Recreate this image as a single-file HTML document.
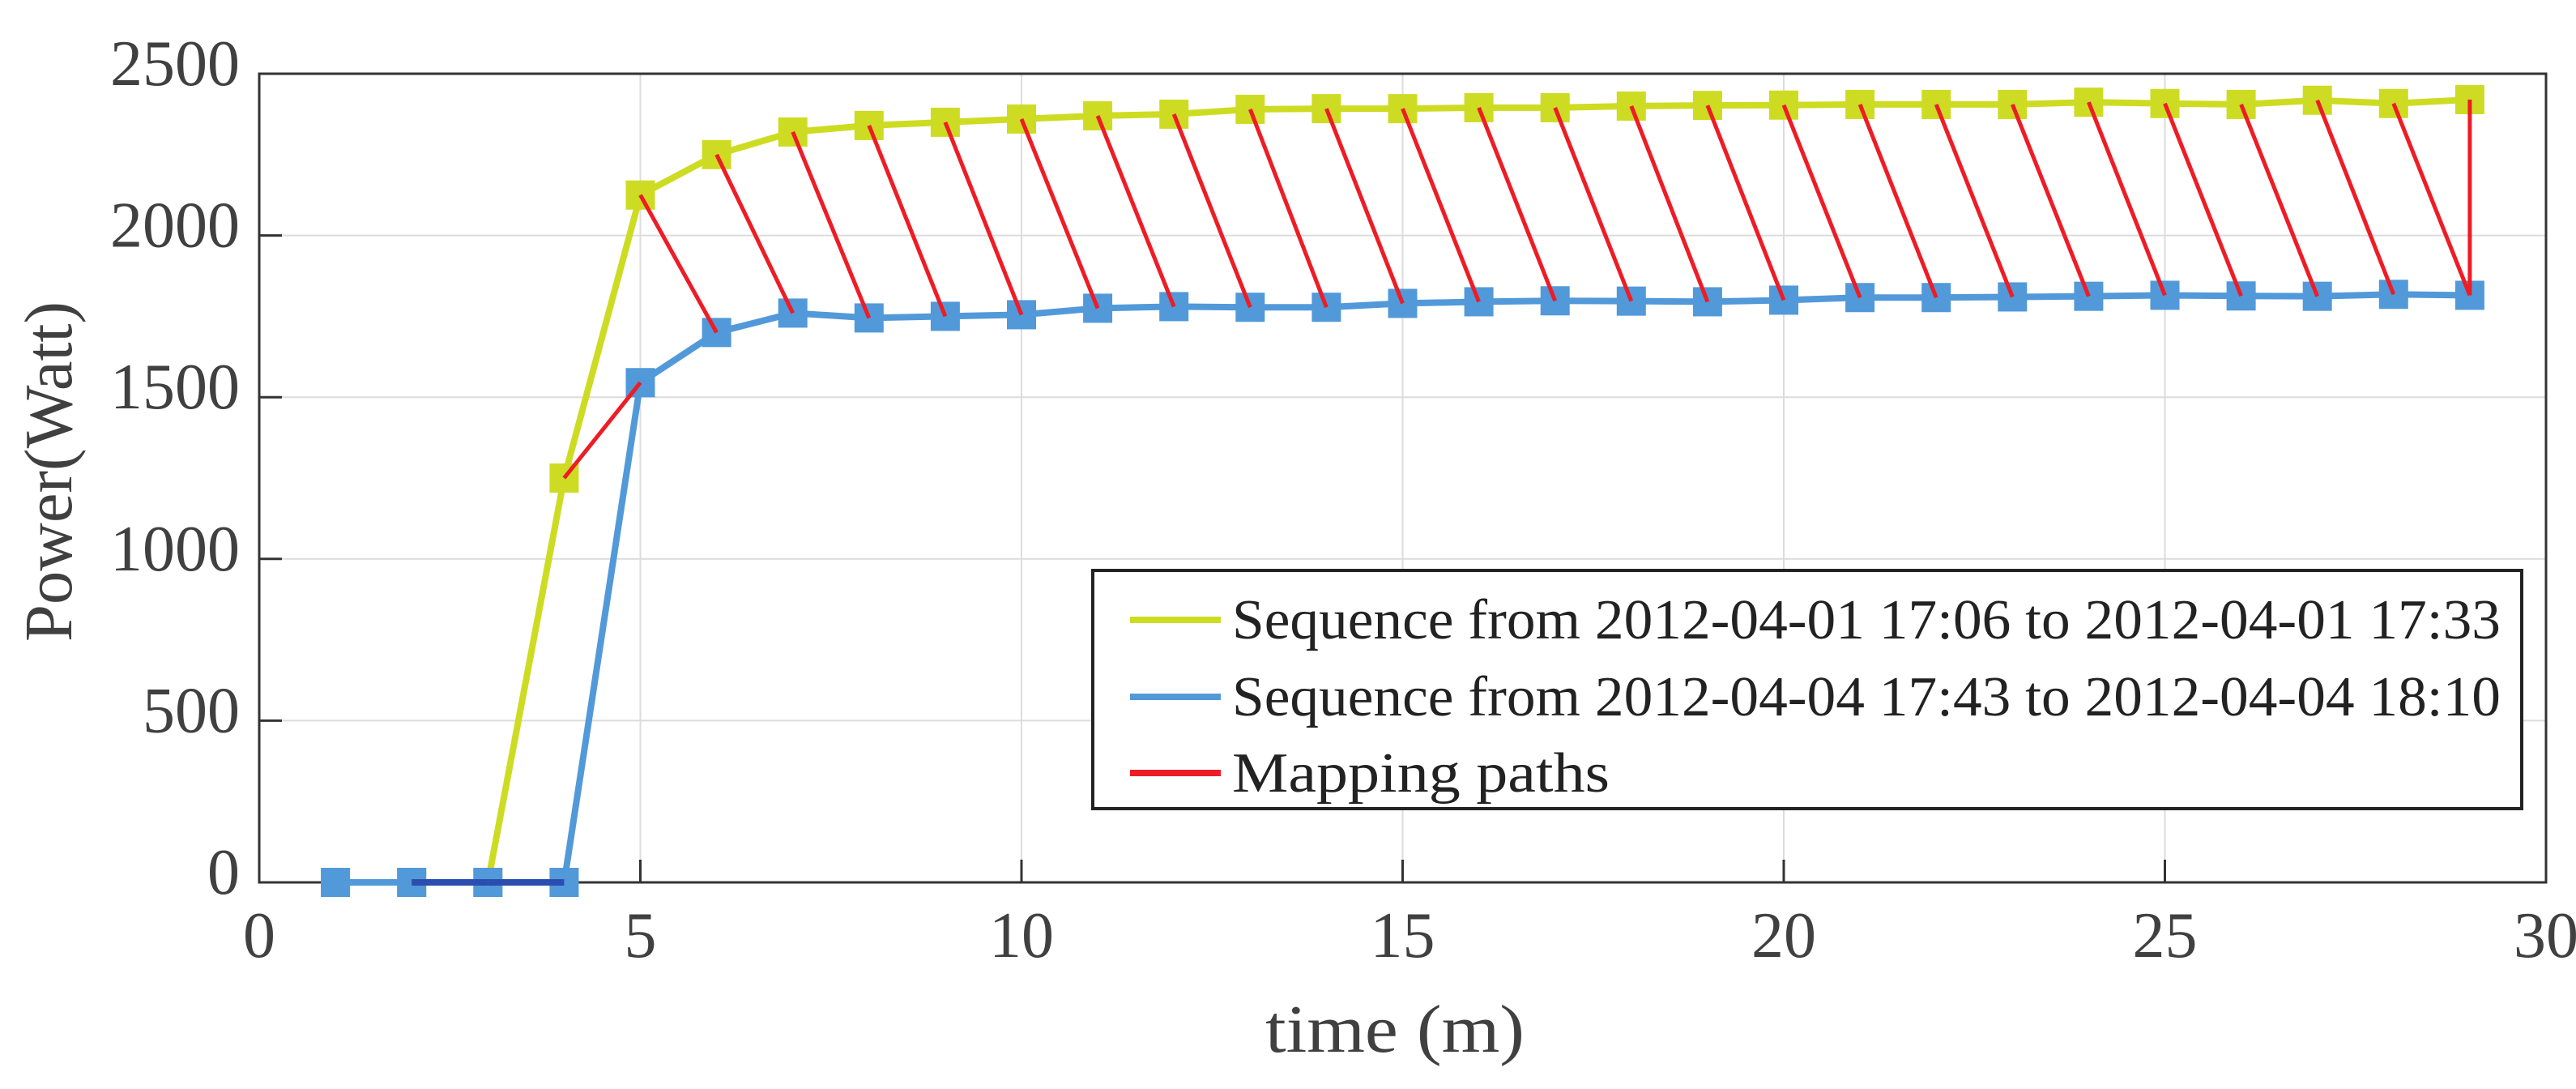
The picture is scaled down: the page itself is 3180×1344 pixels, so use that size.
<!DOCTYPE html>
<html><head><meta charset="utf-8"><style>
html,body{margin:0;padding:0;background:#fff;}
svg{display:block;font-family:"Liberation Serif",serif;}
</style></head><body>
<svg id="chart" width="3180" height="1344" viewBox="0 0 3180 1344">
<g id="grid"></g>
<g id="axes"></g>
<g id="series"></g>
<text x="1722" y="1298" font-size="84" fill="#404040" text-anchor="middle" textLength="320" lengthAdjust="spacingAndGlyphs">time (m)</text>
<text transform="translate(88,582) rotate(-90)" font-size="84" fill="#404040" text-anchor="middle" textLength="420" lengthAdjust="spacingAndGlyphs">Power(Watt)</text>
<g>
<rect x="1349" y="704" width="1764" height="294" fill="#fff" stroke="#222" stroke-width="4"/>
<line x1="1395" y1="765" x2="1507" y2="765" stroke="#cddc22" stroke-width="8"/>
<text x="1521" y="788" font-size="70" fill="#222" textLength="1566" lengthAdjust="spacingAndGlyphs">Sequence from 2012-04-01 17:06 to 2012-04-01 17:33</text>
<line x1="1395" y1="860" x2="1507" y2="860" stroke="#5299d9" stroke-width="8"/>
<text x="1521" y="883" font-size="70" fill="#222" textLength="1566" lengthAdjust="spacingAndGlyphs">Sequence from 2012-04-04 17:43 to 2012-04-04 18:10</text>
<line x1="1395" y1="954" x2="1507" y2="954" stroke="#ee1c25" stroke-width="8"/>
<text x="1521" y="977" font-size="70" fill="#222" textLength="466" lengthAdjust="spacingAndGlyphs">Mapping paths</text>
</g>
</svg>
<script>
const xTicks=[0,5,10,15,20,25,30];
const yTicks=[0,500,1000,1500,2000,2500];
const times=[1,2,3,4,5,6,7,8,9,10,11,12,13,14,15,16,17,18,19,20,21,22,23,24,25,26,27,28,29];
const seqA=[0,0,0,1250,2125,2250,2320,2340,2350,2360,2370,2375,2390,2392,2392,2395,2395,2400,2402,2403,2405,2405,2405,2412,2408,2405,2418,2408,2420];
const seqB=[0,0,0,0,1545,1700,1760,1745,1750,1755,1775,1780,1778,1778,1790,1795,1798,1797,1795,1800,1808,1808,1810,1812,1815,1813,1812,1818,1815];
const mapFrom=[2,3,4,5,6,7,8,9,10,11,12,13,14,15,16,17,18,19,20,21,22,23,24,25,26,27,28,29];
const mapTo=[3,4,5,6,7,8,9,10,11,12,13,14,15,16,17,18,19,20,21,22,23,24,25,26,27,28,29,29];
const L=320,R=3143,T=91,B=1089;
const xs=v=>L+(v-0)/(30-0)*(R-L);
const ys=v=>B-(v-0)/(2500-0)*(B-T);
const NS="http://www.w3.org/2000/svg";
function mk(tag,attrs,parent){const e=document.createElementNS(NS,tag);for(const k in attrs)e.setAttribute(k,attrs[k]);parent.appendChild(e);return e;}
const grid=document.getElementById('grid'),axes=document.getElementById('axes'),ser=document.getElementById('series');
xTicks.forEach(t=>{
  const g=mk('line',{x1:xs(t),x2:xs(t),y1:T,y2:B,stroke:'#dcdcdc','stroke-width':2},grid);
  
  
  const tk=mk('line',{x1:xs(t),x2:xs(t),y1:B,y2:B-28,stroke:'#333','stroke-width':3},axes);
  
  
  const tx=mk('text',{x:xs(t),y:B+92,'font-size':80,fill:'#404040','text-anchor':'middle'},axes);
  tx.textContent=t;
  
  
});
yTicks.forEach(t=>{
  const g=mk('line',{x1:L,x2:R,y1:ys(t),y2:ys(t),stroke:'#dcdcdc','stroke-width':2},grid);
  
  
  const tk=mk('line',{x1:L,x2:L+28,y1:ys(t),y2:ys(t),stroke:'#333','stroke-width':3},axes);
  
  
  const tx=mk('text',{x:L-24,y:ys(t)+14,'font-size':80,fill:'#404040','text-anchor':'end'},axes);
  tx.textContent=t;
  
  
});
const frame=mk('rect',{x:L,y:T,width:R-L,height:B-T,fill:'none',stroke:'#333','stroke-width':3},axes);


function line(vals,color,name){
  const p=mk('polyline',{points:times.map((t,i)=>xs(t)+','+ys(vals[i])).join(' '),fill:'none',stroke:color,'stroke-width':8,'stroke-linejoin':'round'},ser);
  
  
}
function markers(vals,color,name){
  times.forEach((t,i)=>{
    const m=mk('rect',{x:xs(t)-18,y:ys(vals[i])-18,width:36,height:36,fill:color},ser);
    
    
  });
}
line(seqA,'#cddc22','sequence-1-line');
markers(seqA,'#cddc22','sequence-1-marker');
line(seqB,'#5299d9','sequence-2-line');
markers(seqB,'#5299d9','sequence-2-marker');
mapFrom.forEach((f,i)=>{
  const a=seqA[f-1],b=seqB[mapTo[i]-1];
  const zero=(a===0&&b===0);
  const l=mk('line',{x1:xs(f),y1:ys(a),x2:xs(mapTo[i]),y2:ys(b),stroke:zero?'#2b4db0':'#ee1c25','stroke-width':zero?8:5},ser);
  
  
});
</script>
</body></html>
